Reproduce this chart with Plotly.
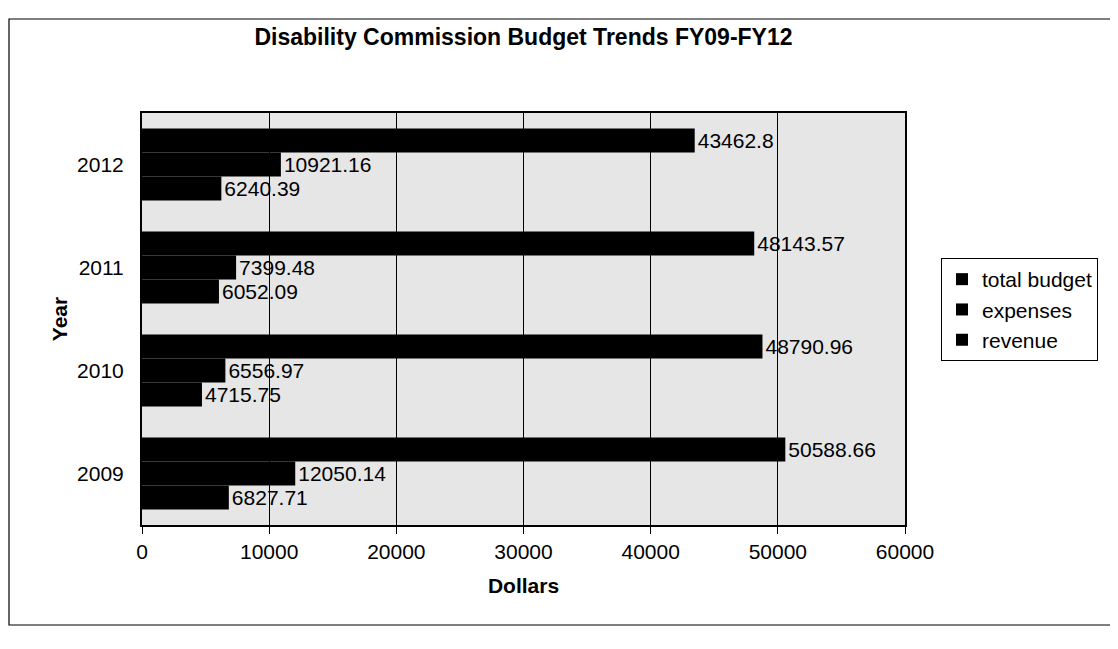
import plotly.graph_objects as go

years = ["2009", "2010", "2011", "2012"]
total_budget = [50588.66, 48790.96, 48143.57, 43462.8]
expenses = [12050.14, 6556.97, 7399.48, 10921.16]
revenue = [6827.71, 4715.75, 6052.09, 6240.39]
x_ticks = [0, 10000, 20000, 30000, 40000, 50000, 60000]

FONT = "Liberation Sans, Arial, sans-serif"
FS = 21

fig = go.Figure()
for name, vals in [("revenue", revenue), ("expenses", expenses), ("total budget", total_budget)]:
    fig.add_trace(go.Bar(
        name=name, y=years, x=vals, orientation="h",
        marker=dict(color="black", line=dict(width=0)),
        text=[str(v) for v in vals], textposition="outside",
        textfont=dict(family=FONT, size=FS, color="black"),
        cliponaxis=False,
    ))

# figure sits 8px inside the page (body margin)
W, H = 1110, 641
L, T = 134, 105
PW, PH = 763, 412
R = W - L - PW
B = H - T - PH

fig.update_layout(
    width=W, height=H,
    margin=dict(l=L, r=R, t=T, b=B, autoexpand=False),
    barmode="group", bargap=0.3, bargroupgap=0,
    paper_bgcolor="white", plot_bgcolor="#e6e6e6",
    font=dict(family=FONT, size=FS, color="black"),
    title=dict(text="<b>Disability Commission Budget Trends FY09-FY12</b>",
               x=0.5, xref="paper", xanchor="center",
               y=1 - 29 / H, yref="container", yanchor="middle",
               font=dict(family=FONT, size=23, color="black")),
    legend=dict(traceorder="reversed", x=(933 - L) / PW, y=(T + PH - 250) / PH,
                xanchor="left", yanchor="top", bgcolor="white",
                bordercolor="black", borderwidth=1,
                font=dict(family=FONT, size=FS, color="black"),
                itemwidth=30, tracegroupgap=0),
    xaxis=dict(range=[0, 60000], tickvals=x_ticks, ticktext=[str(t) for t in x_ticks],
               showgrid=True, gridcolor="black", gridwidth=1,
               showline=True, linecolor="black", linewidth=2, mirror=True,
               ticks="outside", ticklen=7, tickcolor="black", zeroline=False,
               title=dict(text="<b>Dollars</b>", font=dict(family=FONT, size=FS), standoff=16)),
    yaxis=dict(type="category", categoryorder="array", categoryarray=years,
               showline=True, linecolor="black", linewidth=2, mirror=True,
               ticks="outside", ticklen=6, tickcolor="rgba(0,0,0,0)", showgrid=False,
               ticklabelstandoff=6,
               title=dict(text="<b>Year</b>", font=dict(family=FONT, size=FS), standoff=4)),
)

fig.add_shape(type="rect", xref="paper", yref="paper",
              x0=(1 - L) / PW, x1=(1115 - L) / PW,
              y0=(T + PH - 617) / PH, y1=(T + PH - 11) / PH,
              line=dict(color="black", width=1.2), fillcolor="rgba(0,0,0,0)", layer="below")

fig.write_html("out.html")
